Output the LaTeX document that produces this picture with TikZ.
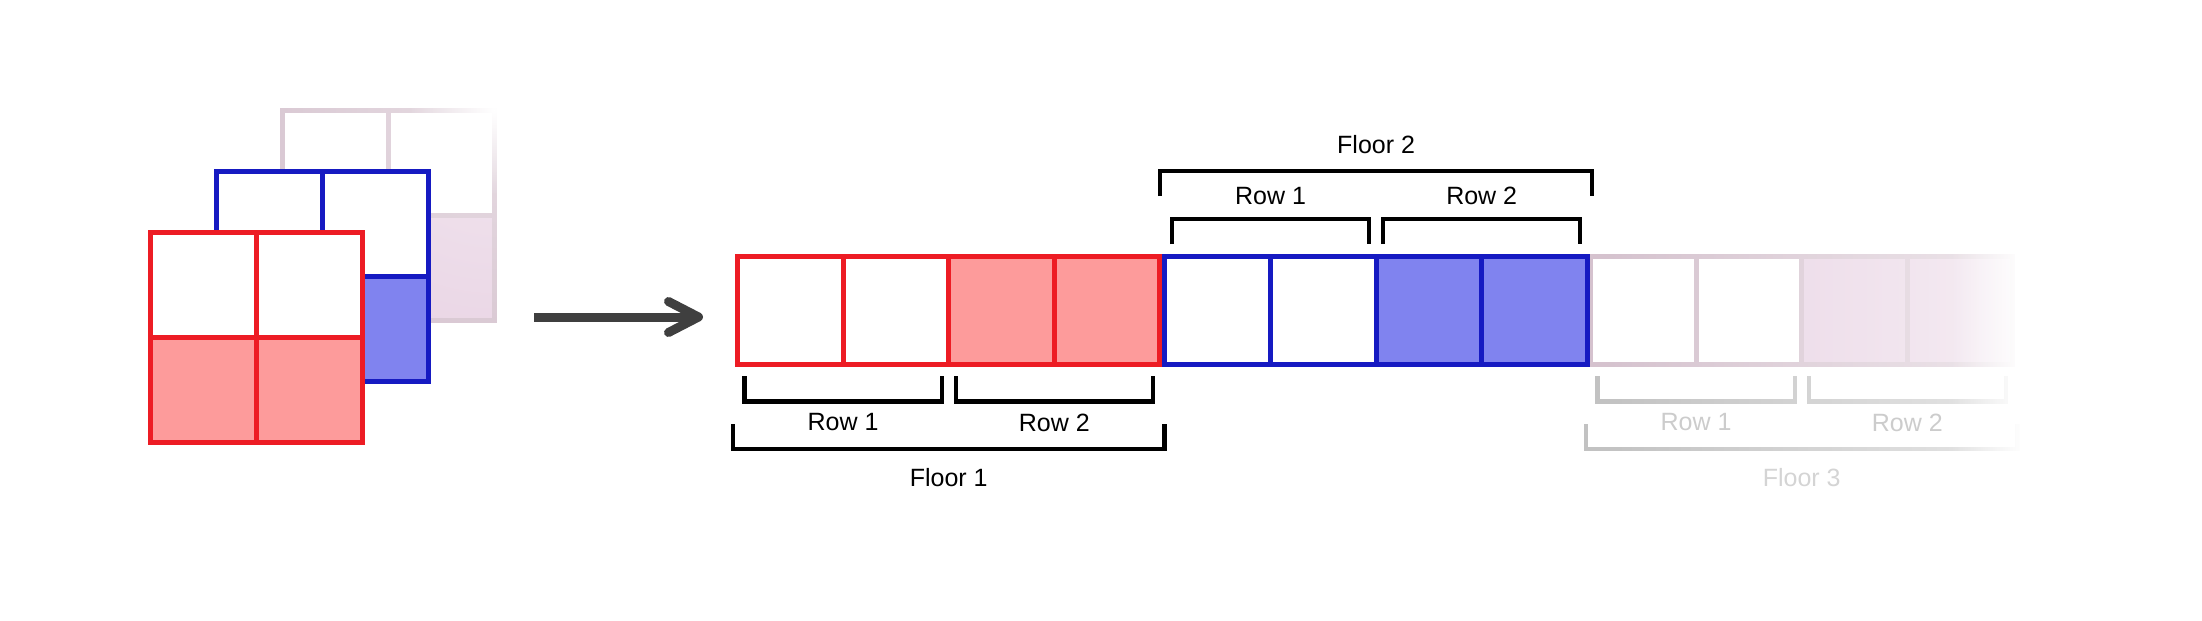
\documentclass[tikz,border=0pt]{standalone}
\usepackage{fontspec}
\setmainfont{Liberation Sans}
\usepackage{tikz}
\usetikzlibrary{arrows.meta, fadings, positioning}

\definecolor{redline}{HTML}{ED1C24}
\definecolor{redfill}{HTML}{FD9B9B}
\definecolor{blueline}{HTML}{161AC2}
\definecolor{bluefill}{HTML}{8083EF}
\definecolor{greyline}{HTML}{D5C2CE}
\definecolor{greyfill}{HTML}{E8D2E3}
\definecolor{bracketgrey}{HTML}{C2C2C2}
\definecolor{labelgrey}{HTML}{CCCCCC}
\definecolor{arrowgrey}{HTML}{3F3F3F}

\tikzfading[name=fadeeast, left color=transparent!100, right color=transparent!0]
\tikzfading[name=fadecorner, inner color=transparent!0, outer color=transparent!100]

\begin{document}
\begin{tikzpicture}[x=0.5pt, y=-0.5pt,
    cellbox/.style={draw, line width=2.5pt, minimum width=52.8pt, minimum height=54pt,
        inner sep=0pt, outer sep=0pt, anchor=north west},
    stackbox/.style={cellbox, minimum width=53pt, minimum height=52.5pt, fill=white},
    bracket/.style={line width=2.15pt},
    lab/.style={font=\fontsize{12.5pt}{14pt}\selectfont, inner sep=0pt},
    flow/.style={draw=arrowgrey, line width=4.5pt, -{Straight Barb[length=15pt, width=15.5pt, round]}}]

        \useasboundingbox (0,0) rectangle (2202,621);

        % stacked input grids, back layer first
        \foreach \i/\dx in {1/0, 2/106} {
            \node[stackbox, draw=greyline] (gt\i) at (282+\dx,110) {};
            \node[stackbox, draw=greyline, fill=greyfill] (gb\i) at (282+\dx,215) {};
        }
        \fill[white, fill opacity=0.45, path fading=fadecorner] (494,110) circle (300);
        \fill[white, path fading=fadecorner] (494,110) circle (85);
        \foreach \lay/\xo/\yo/\ln/\fl in {b/216/171/blueline/bluefill, r/150/232/redline/redfill}
            \foreach \i/\dx in {1/0, 2/106} {
                \node[stackbox, draw=\ln] (\lay t\i) at (\xo+\dx,\yo) {};
                \node[stackbox, draw=\ln, fill=\fl] (\lay b\i) at (\xo+\dx,\yo+105) {};
            }

        \coordinate (arrowtail) at (534,317);
        \coordinate (arrowtip) at (703,317);
        \draw[flow] (arrowtail) -- (arrowtip);

        % flattened strip, one floor after another
        \foreach \f/\xo/\ln/\fl in {3/1590.5/greyline/greyfill, 2/1164.9/blueline/bluefill, 1/737.5/redline/redfill} {
            \foreach \i in {1,2} \node[cellbox, draw=\ln] (f\f c\i) at (\xo+105.6*\i-105.6,256) {};
            \foreach \i in {3,4} \node[cellbox, draw=\ln, fill=\fl] (f\f c\i) at (\xo+105.6*\i-105.6,256) {};
        }

        % brackets for rows and floors
        \foreach \xo/\ya/\yb/\yc/\yd/\col in {737.5/376/401.5/424/449/black,
            1164.9/244/219.3/196/170.7/black, 1590.5/376/401.5/424/449/bracketgrey} {
            \draw[bracket, draw=\col] (\xo+7,\ya) -- (\xo+7,\yb) -- (\xo+204.2,\yb) -- (\xo+204.2,\ya);
            \draw[bracket, draw=\col] (\xo+218.2,\ya) -- (\xo+218.2,\yb) -- (\xo+415.4,\yb) -- (\xo+415.4,\ya);
            \draw[bracket, draw=\col] (\xo-4.7,\yc) -- (\xo-4.7,\yd) -- (\xo+427.1,\yd) -- (\xo+427.1,\yc);
        }

        % third floor fades out to the right
        \fill[white, fill opacity=0.6, path fading=fadeeast] (1598,250) rectangle (2024,456);
        \fill[white, path fading=fadeeast] (1950,250) rectangle (2024,456);

        \node[lab] (f1r1) at (843.1,422.5) {Row 1};
        \node[lab] (f1r2) at (1054.3,422.5) {Row 2};
        \node[lab] (f1) at (948.7,477.3) {Floor 1};
        \node[lab] (f2r1) at (1270.5,196) {Row 1};
        \node[lab] (f2r2) at (1481.7,196) {Row 2};
        \node[lab] (f2) at (1376.1,145) {Floor 2};
        \node[lab, text=labelgrey] (f3r1) at (1696.1,422.5) {Row 1};
        \node[lab, text=labelgrey] (f3r2) at (1907.3,422.5) {Row 2};
        \node[lab, text=labelgrey!85] (f3) at (1801.7,477.3) {Floor 3};
\end{tikzpicture}
\end{document}
